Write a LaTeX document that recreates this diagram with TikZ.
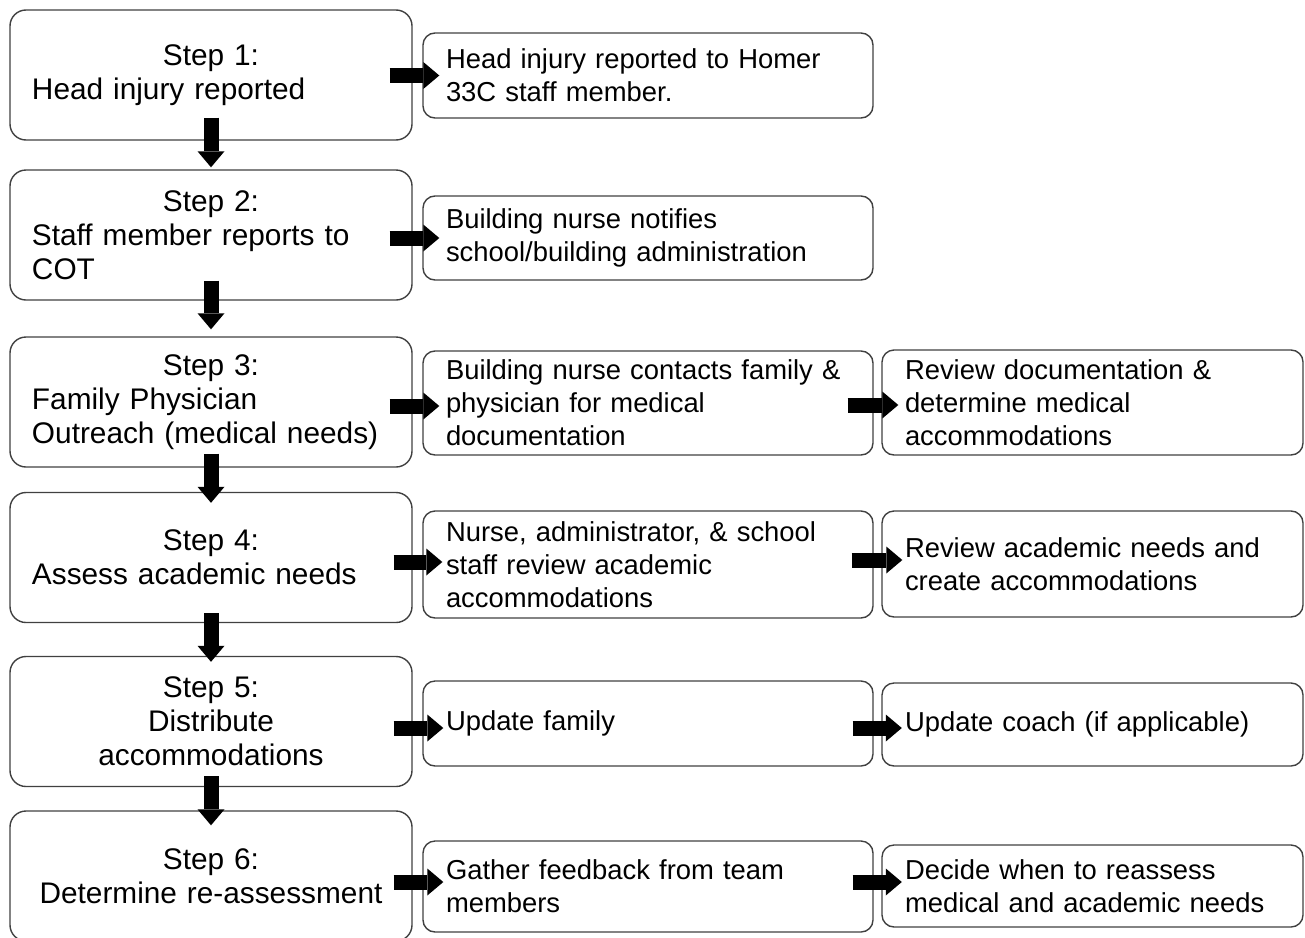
\documentclass[tikz,border=0pt]{standalone}
\usepackage{fontspec}
\setmainfont{Liberation Sans}
\usetikzlibrary{arrows.meta,calc}
\newlength{\stepw}
\setlength{\stepw}{179pt}
\newcommand{\lline}[1]{\makebox[\stepw][l]{#1}}

\begin{document}
\begin{tikzpicture}[x=0.5pt,y=-0.5pt,
    stepbox/.style={draw=black!75, line width=0.7pt, rounded corners=8pt, text width=\stepw, align=center,
      inner xsep=11pt, inner ysep=0pt, minimum height=65pt, font=\fontsize{14.9}{17}\selectfont},
    actbox/.style={draw=black!75, line width=0.7pt, rounded corners=6pt, align=left,
      inner xsep=11.5pt, inner ysep=0pt, font=\fontsize{13.7}{16.5}\selectfont},
    midbox/.style={actbox, text width=202pt},
    rightbox/.style={actbox, text width=187.5pt},
    blockarrow/.style={line width=7.5pt, -{Triangle[width=13.5pt,length=8pt,line width'=0pt]}}]
            \clip (0,0) rectangle (1305,937);

            \node (s1) at (211,75) [stepbox] {Step 1:\\ \lline{Head injury reported}};
            \node (m1) at (648,75.5) [midbox, minimum height=42.5pt] {Head injury reported to Homer\\ 33C staff member.};

            \node (s2) at (211,235) [stepbox] {Step 2:\\ \lline{Staff member reports to}\\ \lline{COT}};
            \node (m2) at (648,238) [midbox, minimum height=42pt] {Building nurse notifies\\ school/building administration};

            \node (s3) at (211,402) [stepbox] {Step 3:\\ \lline{Family Physician}\\ \lline{Outreach (medical needs)}};
            \node (m3) at (648,403) [midbox, minimum height=52pt] {Building nurse contacts family \&\\ physician for medical\\ documentation};
            \node (r3) at (1092.5,402.5) [rightbox, minimum height=52.5pt] {Review documentation \&\\ determine medical\\ accommodations};

            \node (s4) at (211,557.5) [stepbox] {Step 4:\\ \lline{Assess academic needs}};
            \node (m4) at (648,564.5) [midbox, minimum height=53.5pt] {Nurse, administrator, \& school\\ staff review academic\\ accommodations};
            \node (r4) at (1092.5,564) [rightbox, minimum height=53pt] {Review academic needs and\\ create accommodations};

            \node (s5) at (211,721.5) [stepbox] {Step 5:\\ Distribute\\ accommodations};
            \node (m5) at (648,723.5) [midbox, minimum height=42.5pt] {Update family};
            \node (r5) at (1092.5,724.5) [rightbox, minimum height=41.5pt] {Update coach (if applicable)};

            \node (s6) at (211,876) [stepbox] {Step 6:\\ Determine re-assessment};
            \node (m6) at (648,886.5) [midbox, minimum height=45.5pt] {Gather feedback from team\\ members};
            \node (r6) at (1092.5,886) [rightbox, minimum height=41pt] {Decide when to reassess\\ medical and academic needs};

            % steps, top to bottom
            \draw[blockarrow] ($(s1.south)+(0,-23)$) -- ($(s2.north)+(0,-2)$);
            \draw[blockarrow] ($(s2.south)+(0,-20)$) -- ($(s3.north)+(0,-7)$);
            \draw[blockarrow] ($(s3.south)+(0,-14)$) -- ($(s4.north)+(0,11)$);
            \draw[blockarrow] ($(s4.south)+(0,-10)$) -- ($(s5.north)+(0,6)$);
            \draw[blockarrow] ($(s5.south)+(0,-11)$) -- ($(s6.north)+(0,15)$);

            % left to right
            \draw[blockarrow] ($(s1.east |- m1.west)+(-23,0)$) -- ($(m1.west)+(17,0)$);
            \draw[blockarrow] ($(s2.east |- m2.west)+(-23,0)$) -- ($(m2.west)+(17,0)$);
            \draw[blockarrow] ($(s3.east |- m3.west)+(-23,3)$) -- ($(m3.west)+(17,3)$);
            \draw[blockarrow] ($(s4.east |- m4.west)+(-19,-2.5)$) -- ($(m4.west)+(20,-2.5)$);
            \draw[blockarrow] ($(s5.east |- m5.west)+(-19,4.5)$) -- ($(m5.west)+(21,4.5)$);
            \draw[blockarrow] ($(s6.east |- m6.west)+(-19,-4.5)$) -- ($(m6.west)+(21,-4.5)$);
            \draw[blockarrow] ($(m3.east)+(-26,2)$) -- ($(m3.east -| r3.west)+(17,2)$);
            \draw[blockarrow] ($(m4.east)+(-22,-4.5)$) -- ($(m4.east -| r4.west)+(21,-4.5)$);
            \draw[blockarrow] ($(m5.east)+(-21,4.5)$) -- ($(m5.east -| r5.west)+(20.5,4.5)$);
            \draw[blockarrow] ($(m6.east)+(-21,-4.5)$) -- ($(m6.east -| r6.west)+(20.5,-4.5)$);
\end{tikzpicture}
\end{document}
